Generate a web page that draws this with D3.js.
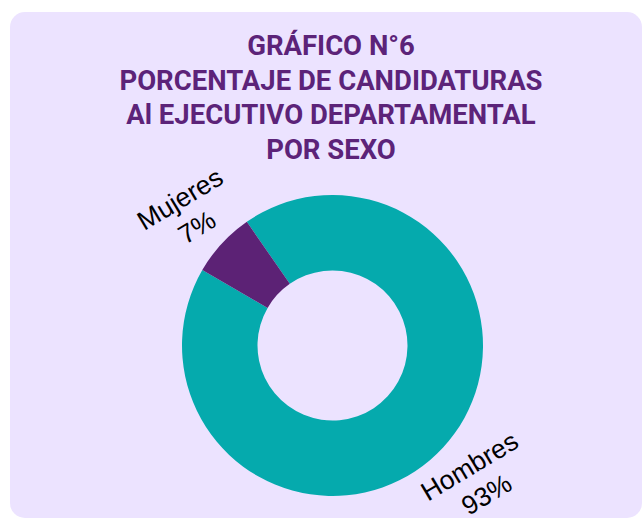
<!DOCTYPE html>
<html><head><meta charset="utf-8">
<script src="https://cdn.jsdelivr.net/npm/d3@7"></script>
<style>html,body{margin:0;padding:0;background:#fff;}svg{display:block;}</style>
</head><body>
<svg id="chart" width="644" height="518"></svg>
<script>
const titleLines = ["GRÁFICO N°6", "PORCENTAJE DE CANDIDATURAS", "Al EJECUTIVO DEPARTAMENTAL", "POR SEXO"];
const categories = ["Hombres", "Mujeres"];
const values = [93, 7];
const colors = ["#05aaad", "#5c2275"];

const svg = d3.select("#chart");
svg.append("rect").attr("x", 10).attr("y", 12).attr("width", 632).attr("height", 506)
  .attr("rx", 15).attr("fill", "#ece3ff");

const title = svg.append("text").attr("text-anchor", "middle")
  .attr("font-family", "Roboto").attr("font-weight", 700).attr("font-size", 27.5)
  .attr("fill", "#5c2379");
titleLines.forEach((t, i) => {
  title.append("tspan").attr("x", 331).attr("y", 55 + i * 34.7).text(t);
});

const cx = 332.5, cy = 345.5, rOut = 150.5, rIn = 75;
const start = -34.7 * Math.PI / 180;
const pie = d3.pie().sort(null).startAngle(start).endAngle(start + 2 * Math.PI);
const arcs = pie(values);
const arc = d3.arc().innerRadius(rIn).outerRadius(rOut);
const labelArc = d3.arc().innerRadius(197).outerRadius(197);

const g = svg.append("g").attr("transform", `translate(${cx},${cy})`);
g.selectAll("path").data(arcs).join("path")
  .attr("d", arc).attr("fill", (d, i) => colors[i]);

const lab = g.selectAll("text.lab").data(arcs).join("text")
  .attr("class", "lab")
  .attr("transform", d => { const [x, y] = labelArc.centroid(d); return `translate(${x},${y}) rotate(-31)`; })
  .attr("text-anchor", "middle")
  .attr("font-family", "Liberation Sans, Arial, sans-serif").attr("font-size", 26.5).attr("fill", "#000");
lab.append("tspan").attr("x", 0).attr("y", -6).text((d, i) => categories[i]);
lab.append("tspan").attr("x", 0).attr("y", 27).text((d, i) => values[i] + "%");
</script>
</body></html>
